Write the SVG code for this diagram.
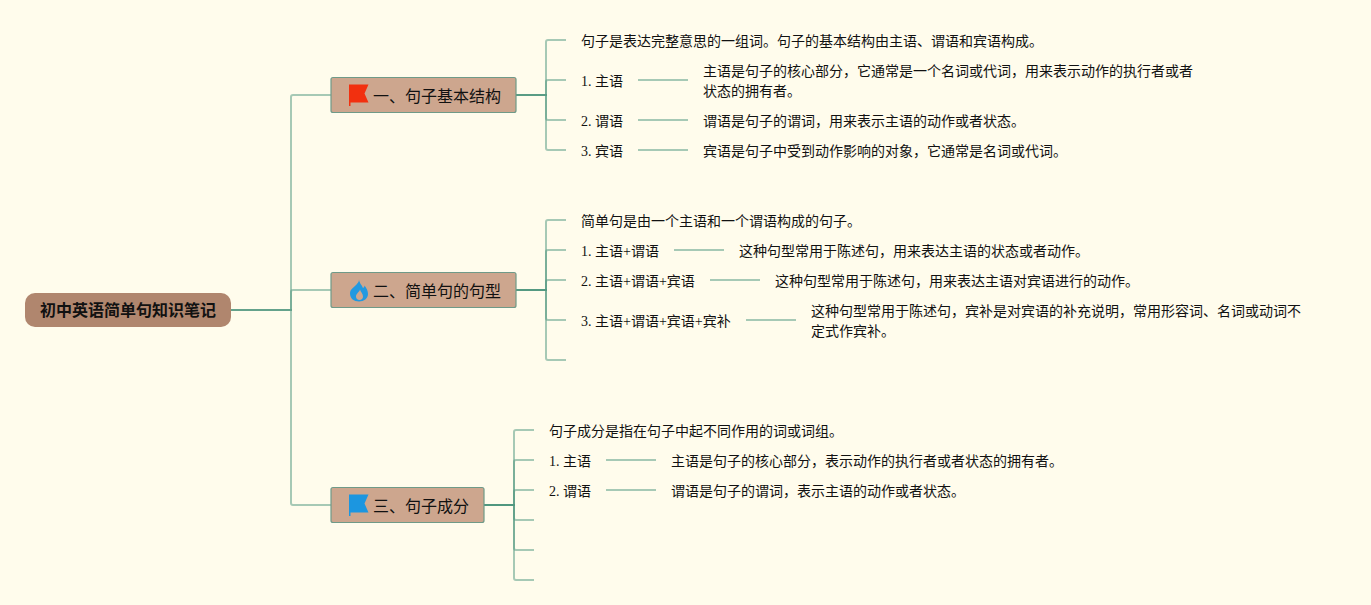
<svg xmlns="http://www.w3.org/2000/svg" width="1371" height="605" viewBox="0 0 1371 605">
<style>
text{font-family:"Liberation Serif","Noto Sans CJK SC",serif;font-size:14px;fill:#111}
.t{font-family:"Noto Sans CJK SC","Liberation Sans",sans-serif;font-size:16px;fill:#111}
.r{font-family:"Noto Sans CJK SC","Liberation Sans",sans-serif;font-size:16px;font-weight:700;fill:#111}
#connectors path{fill:none;stroke:#4d967e;stroke-opacity:.5;stroke-width:2}
.b{fill:#cda68e;stroke:#6f9a88;stroke-width:1.2}
</style>
<rect width="1371" height="605" fill="#fffcec"/>
<g id="connectors">
<path d="M231 310H291V97Q291 95 293 95H331"/>
<path d="M231 310H291V292Q291 290 293 290H331"/>
<path d="M231 310H291V503Q291 505 293 505H331"/>
<path d="M516 95H546V42Q546 40 548 40H566"/>
<path d="M516 95H546V82Q546 80 548 80H566"/>
<path d="M516 95H546V118Q546 120 548 120H566"/>
<path d="M516 95H546V148Q546 150 548 150H566"/>
<path d="M516 290H546V222Q546 220 548 220H566"/>
<path d="M516 290H546V252Q546 250 548 250H566"/>
<path d="M516 290H546V282Q546 280 548 280H566"/>
<path d="M516 290H546V318Q546 320 548 320H566"/>
<path d="M516 290H546V358Q546 360 548 360H566"/>
<path d="M484 505H514V432Q514 430 516 430H534"/>
<path d="M484 505H514V462Q514 460 516 460H534"/>
<path d="M484 505H514V492Q514 490 516 490H534"/>
<path d="M484 505H514V518Q514 520 516 520H534"/>
<path d="M484 505H514V548Q514 550 516 550H534"/>
<path d="M484 505H514V578Q514 580 516 580H534"/>
<path d="M638 80H688"/>
<path d="M638 120H688"/>
<path d="M638 150H688"/>
<path d="M674 250H724"/>
<path d="M710 280H760"/>
<path d="M746 320H796"/>
<path d="M606 460H656"/>
<path d="M606 490H656"/>
</g>
<g id="root"><rect x="25" y="293" width="206" height="34" rx="10" fill="#b0866e"/><text class="r" x="40" y="316">初中英语简单句知识笔记</text></g>
<g id="topic1"><rect class="b" x="331" y="77.500" width="185" height="35" rx="2"/><path d="M349 84.500H368.500L364.500 93.500L368.500 102.500H350.500V106H349Z" fill="#f2300f"/><text class="t" x="373" y="102">一、句子基本结构</text></g>
<g id="topic2"><rect class="b" x="331" y="272.500" width="185" height="35" rx="2"/><path fill-rule="evenodd" d="M359 279.500C359.500 283.500 362 285 363 288C364 287.500 364.500 286.500 364.500 285.500C366.500 288 368 291 368 294C368 298.500 364 301.500 359 301.500C354 301.500 350 298.500 350 293.500C350 289 354 287.500 356.500 284.500C358 283 359 281.500 359 279.500ZM360 289.500C359.500 292 356 293.500 356 296.500C356 298.500 357.500 300 359.500 300C361.500 300 363 298.500 363 296.500C363 293.500 360.500 292 360 289.500Z" fill="#2299e0"/><text class="t" x="373" y="297">二、简单句的句型</text></g>
<g id="topic3"><rect class="b" x="331" y="487.500" width="153" height="35" rx="2"/><path d="M349 494.500H368.500L364.500 503.500L368.500 512.500H350.500V516H349Z" fill="#1c96e0"/><text class="t" x="373" y="512">三、句子成分</text></g>
<g id="n1"><text x="581" y="46">句子是表达完整意思的一组词。句子的基本结构由主语、谓语和宾语构成。</text></g>
<g id="n2"><text x="581" y="86">1. 主语</text></g>
<g id="n3"><text x="703" y="76">主语是句子的核心部分，它通常是一个名词或代词，用来表示动作的执行者或者</text><text x="703" y="96">状态的拥有者。</text></g>
<g id="n4"><text x="581" y="126">2. 谓语</text></g>
<g id="n5"><text x="703" y="126">谓语是句子的谓词，用来表示主语的动作或者状态。</text></g>
<g id="n6"><text x="581" y="156">3. 宾语</text></g>
<g id="n7"><text x="703" y="156">宾语是句子中受到动作影响的对象，它通常是名词或代词。</text></g>
<g id="n8"><text x="581" y="226">简单句是由一个主语和一个谓语构成的句子。</text></g>
<g id="n9"><text x="581" y="256">1. 主语+谓语</text></g>
<g id="n10"><text x="739" y="256">这种句型常用于陈述句，用来表达主语的状态或者动作。</text></g>
<g id="n11"><text x="581" y="286">2. 主语+谓语+宾语</text></g>
<g id="n12"><text x="775" y="286">这种句型常用于陈述句，用来表达主语对宾语进行的动作。</text></g>
<g id="n13"><text x="581" y="326">3. 主语+谓语+宾语+宾补</text></g>
<g id="n14"><text x="811" y="316">这种句型常用于陈述句，宾补是对宾语的补充说明，常用形容词、名词或动词不</text><text x="811" y="336">定式作宾补。</text></g>
<g id="n15"><text x="549" y="436">句子成分是指在句子中起不同作用的词或词组。</text></g>
<g id="n16"><text x="549" y="466">1. 主语</text></g>
<g id="n17"><text x="671" y="466">主语是句子的核心部分，表示动作的执行者或者状态的拥有者。</text></g>
<g id="n18"><text x="549" y="496">2. 谓语</text></g>
<g id="n19"><text x="671" y="496">谓语是句子的谓词，表示主语的动作或者状态。</text></g>
</svg>
